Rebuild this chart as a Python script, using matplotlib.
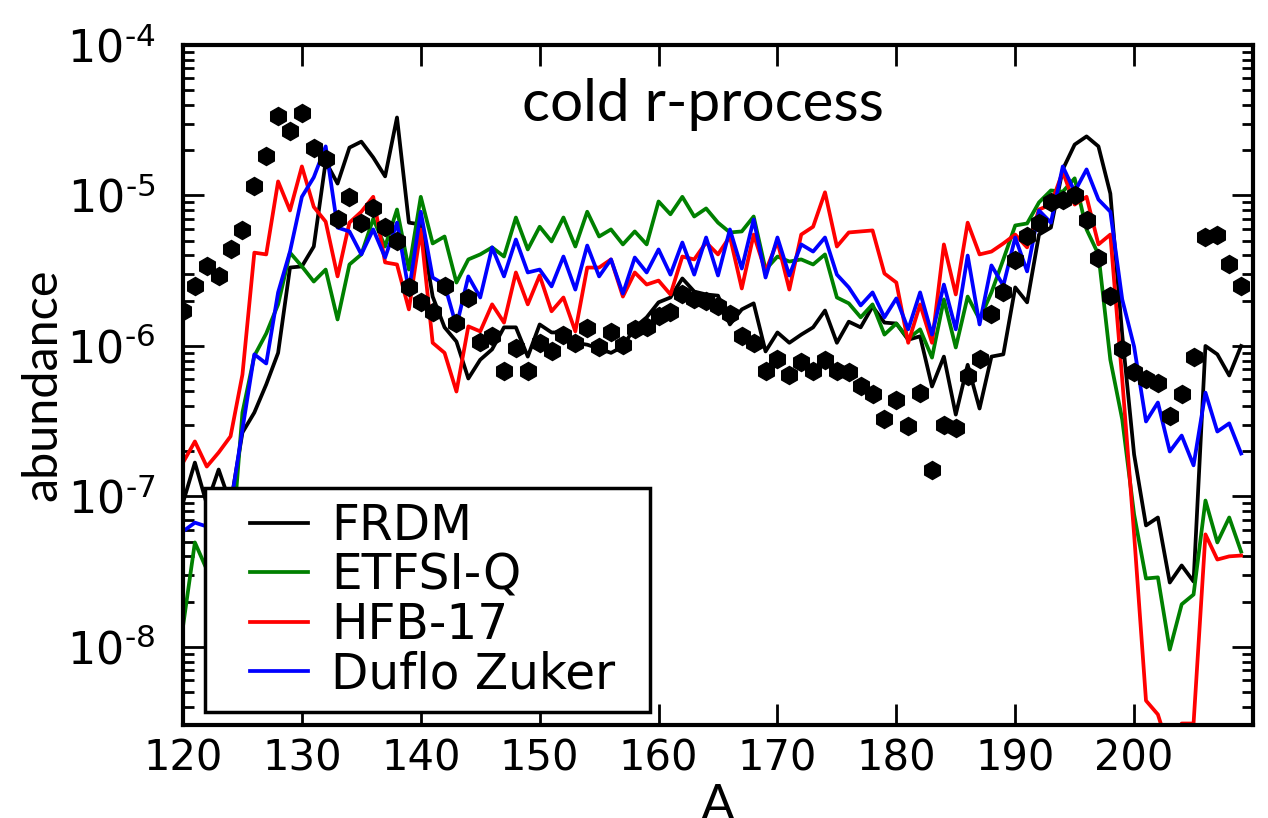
import numpy as np
import matplotlib
matplotlib.use("Agg")
import matplotlib.pyplot as plt
import matplotlib.patches as patches
from matplotlib.ticker import LogLocator, FixedLocator, FixedFormatter, NullFormatter

# --- DATA (mass number A = 120 ... 209) ---
mass_number = list(range(120, 210))

solar = [
    1.72e-6, 2.49e-6, 3.38e-6, 2.9e-6, 4.38e-6, 5.86e-6, 1.15e-5, 1.84e-5, 3.35e-5, 2.7e-5,
    3.56e-5, 2.08e-5, 1.76e-5, 6.93e-6, 9.8e-6, 6.52e-6, 8.2e-6, 6.2e-6, 4.95e-6, 2.45e-6,
    1.95e-6, 1.67e-6, 2.49e-6, 1.43e-6, 2.07e-6, 1.07e-6, 1.17e-6, 6.87e-7, 9.77e-7, 6.87e-7,
    1.05e-6, 9.3e-7, 1.19e-6, 1.05e-6, 1.31e-6, 9.9e-7, 1.23e-6, 1.02e-6, 1.29e-6, 1.33e-6,
    1.57e-6, 1.67e-6, 2.23e-6, 2.04e-6, 1.98e-6, 1.83e-6, 1.62e-6, 1.17e-6, 1.05e-6, 6.87e-7,
    8.25e-7, 6.46e-7, 7.88e-7, 6.87e-7, 8.1e-7, 6.87e-7, 6.67e-7, 5.38e-7, 4.76e-7, 3.25e-7,
    4.35e-7, 2.96e-7, 4.9e-7, 1.49e-7, 3.0e-7, 2.83e-7, 6.27e-7, 8.25e-7, 1.64e-6, 2.3e-6,
    3.7e-6, 5.34e-6, 6.52e-6, 9.0e-6, 9.4e-6, 1.0e-5, 6.83e-6, 3.87e-6, 2.16e-6, 9.6e-7,
    6.67e-7, 6.0e-7, 5.7e-7, 3.45e-7, 4.76e-7, 8.5e-7, 5.26e-6, 5.5e-6, 3.48e-6, 2.49e-6,
]

frdm = [
    9.1e-8, 1.68e-7, 8.9e-8, 1.51e-7, 8.9e-8, 2.66e-7, 3.61e-7, 5.55e-7, 9.0e-7, 3.32e-6,
    3.38e-6, 4.58e-6, 1.68e-5, 1.2e-5, 2.08e-5, 2.28e-5, 1.79e-5, 1.34e-5, 3.3e-5, 6.6e-6,
    6.42e-6, 2.13e-6, 1.33e-6, 1.07e-6, 6.08e-7, 8.1e-7, 9.5e-7, 1.33e-6, 1.33e-6, 8.5e-7,
    1.39e-6, 1.23e-6, 1.23e-6, 1.05e-6, 1.02e-6, 9.6e-7, 9.0e-7, 9.9e-7, 1.33e-6, 1.55e-6,
    1.95e-6, 2.1e-6, 2.81e-6, 2.3e-6, 2.2e-6, 2.16e-6, 1.39e-6, 1.75e-6, 1.92e-6, 9.2e-7,
    1.23e-6, 1.05e-6, 1.19e-6, 1.33e-6, 1.72e-6, 1.05e-6, 1.45e-6, 1.33e-6, 1.83e-6, 1.43e-6,
    1.41e-6, 1.1e-6, 1.16e-6, 5.38e-7, 8.5e-7, 3.5e-7, 7.5e-7, 3.84e-7, 8.5e-7, 8.8e-7,
    2.45e-6, 1.95e-6, 5.5e-6, 6.12e-6, 1.49e-5, 2.18e-5, 2.47e-5, 2.12e-5, 1.03e-5, 1.19e-6,
    1.9e-7, 6.42e-8, 7.25e-8, 2.68e-8, 3.48e-8, 2.72e-8, 1.0e-6, 8.8e-7, 6.37e-7, 1.0e-6,
]

etfsi_q = [
    1.37e-8, 4.95e-8, 3.27e-8, 3.81e-8, 3.64e-8, 3.61e-7, 8.6e-7, 1.21e-6, 1.89e-6, 4.17e-6,
    3.38e-6, 2.68e-6, 3.22e-6, 1.5e-6, 3.48e-6, 4.06e-6, 7.0e-6, 4.58e-6, 8.07e-6, 3.22e-6,
    9.8e-6, 4.8e-6, 5.34e-6, 2.64e-6, 3.76e-6, 4.06e-6, 4.52e-6, 3.93e-6, 7.14e-6, 4.38e-6,
    6.2e-6, 4.95e-6, 7.14e-6, 4.58e-6, 7.8e-6, 5.34e-6, 5.95e-6, 4.73e-6, 5.77e-6, 4.73e-6,
    9.13e-6, 7.5e-6, 9.8e-6, 7.25e-6, 8.2e-6, 6.6e-6, 5.68e-6, 5.77e-6, 7.25e-6, 3.22e-6,
    3.93e-6, 3.64e-6, 3.76e-6, 3.48e-6, 4.06e-6, 2.1e-6, 1.92e-6, 1.55e-6, 1.89e-6, 1.19e-6,
    1.41e-6, 1.12e-6, 1.29e-6, 8.37e-7, 2.04e-6, 9.77e-7, 2.13e-6, 1.5e-6, 2.27e-6, 3.76e-6,
    6.32e-6, 6.52e-6, 9.0e-6, 1.08e-5, 1.06e-5, 1.3e-5, 5.95e-6, 4.06e-6, 8.1e-7, 3.25e-7,
    7.6e-8, 2.85e-8, 2.9e-8, 9.6e-9, 1.92e-8, 2.23e-8, 9.4e-8, 4.95e-8, 7.25e-8, 4.3e-8,
]

hfb_17 = [
    1.68e-7, 2.32e-7, 1.58e-7, 1.96e-7, 2.51e-7, 6.46e-7, 4.17e-6, 4.06e-6, 1.24e-5, 7.95e-6,
    1.56e-5, 8.4e-6, 6.7e-6, 2.9e-6, 6.6e-6, 7.8e-6, 9.8e-6, 3.59e-6, 3.48e-6, 1.75e-6,
    5.95e-6, 1.05e-6, 9.0e-7, 4.98e-7, 1.35e-6, 1.25e-6, 1.89e-6, 1.43e-6, 3.08e-6, 1.89e-6,
    2.94e-6, 1.7e-6, 2.1e-6, 1.25e-6, 3.32e-6, 3.32e-6, 3.76e-6, 2.13e-6, 3.08e-6, 2.56e-6,
    2.72e-6, 2.2e-6, 3.93e-6, 3.76e-6, 4.87e-6, 4.06e-6, 5.34e-6, 2.41e-6, 5.5e-6, 3.13e-6,
    4.95e-6, 2.37e-6, 5.5e-6, 6.2e-6, 1.05e-5, 4.58e-6, 5.68e-6, 5.77e-6, 5.86e-6, 3.03e-6,
    2.64e-6, 1.05e-6, 1.89e-6, 1.05e-6, 4.73e-6, 2.2e-6, 6.6e-6, 4.06e-6, 4.24e-6, 4.8e-6,
    5.5e-6, 4.52e-6, 8.07e-6, 8.7e-6, 1.44e-5, 8.7e-6, 9.8e-6, 4.73e-6, 5.5e-6, 6.0e-7,
    5.6e-8, 4.4e-9, 3.56e-9, 2.0e-9, 3.1e-9, 3.1e-9, 5.6e-8, 3.81e-8, 4.0e-8, 4.05e-8,
]

duflo_zuker = [
    5.86e-8, 6.7e-8, 6.32e-8, 6.0e-8, 8.6e-8, 2.79e-7, 8.8e-7, 7.65e-7, 2.27e-6, 4.24e-6,
    9.8e-6, 1.32e-5, 2.12e-5, 6.12e-6, 5.77e-6, 4.06e-6, 5.95e-6, 3.87e-6, 6.6e-6, 2.3e-6,
    7.8e-6, 2.85e-6, 2.56e-6, 1.35e-6, 2.9e-6, 2.1e-6, 4.52e-6, 2.9e-6, 5.1e-6, 3.08e-6,
    3.22e-6, 2.49e-6, 3.93e-6, 2.37e-6, 4.65e-6, 2.9e-6, 3.76e-6, 2.23e-6, 3.87e-6, 3.08e-6,
    4.38e-6, 2.98e-6, 4.87e-6, 2.98e-6, 5.26e-6, 2.94e-6, 5.95e-6, 3.27e-6, 6.93e-6, 2.85e-6,
    5.26e-6, 2.94e-6, 4.73e-6, 4.24e-6, 5.26e-6, 2.98e-6, 2.45e-6, 1.86e-6, 2.27e-6, 1.55e-6,
    2.07e-6, 1.29e-6, 2.27e-6, 1.19e-6, 2.56e-6, 1.29e-6, 3.99e-6, 1.39e-6, 3.43e-6, 2.52e-6,
    5.26e-6, 3.13e-6, 7.95e-6, 6.6e-6, 1.56e-5, 1.06e-5, 1.49e-5, 9.4e-6, 7.8e-6, 2.04e-6,
    9.9e-7, 3.15e-7, 4.21e-7, 1.99e-7, 2.54e-7, 1.61e-7, 4.9e-7, 2.7e-7, 3.06e-7, 1.93e-7,
]

x_ticks = [120, 130, 140, 150, 160, 170, 180, 190, 200]
y_ticks = [1e-8, 1e-7, 1e-6, 1e-5, 1e-4]
y_tick_labels = [r'$10^{\text{-8}}$', r'$10^{\text{-7}}$', r'$10^{\text{-6}}$',
                 r'$10^{\text{-5}}$', r'$10^{\text{-4}}$']

# --- FIGURE ---
fig = plt.figure(figsize=(12.68, 8.18), dpi=100)
ax = fig.add_axes([183 / 1268, 1 - 725 / 818, 1070 / 1268, 680 / 818])

ax.plot(mass_number, frdm, color='black', lw=2.7, label='FRDM')
ax.plot(mass_number, etfsi_q, color='green', lw=2.7, label='ETFSI-Q')
ax.plot(mass_number, hfb_17, color='red', lw=2.7, label='HFB-17')
ax.plot(mass_number, duflo_zuker, color='blue', lw=2.7, label='Duflo Zuker')
ax.plot(mass_number, solar, 'h', color='black', ms=13, zorder=4)

ax.set_yscale('log')
ax.set_xlim(120, 210)
ax.set_ylim(3.03e-9, 1e-4)

ax.xaxis.set_major_locator(FixedLocator(x_ticks))
ax.yaxis.set_major_locator(FixedLocator(y_ticks))
ax.yaxis.set_major_formatter(FixedFormatter(y_tick_labels))
ax.yaxis.set_minor_locator(LogLocator(base=10, subs=np.arange(2, 10), numticks=20))
ax.yaxis.set_minor_formatter(NullFormatter())

ax.tick_params(which='both', direction='in', top=True, right=True, width=2)
ax.tick_params(which='major', length=15)
ax.tick_params(which='minor', length=8)
ax.tick_params(axis='x', labelsize=30, pad=9)
ax.tick_params(axis='y', labelsize=32, pad=20)
for sp in ax.spines.values():
    sp.set_linewidth(3)

ax.set_xlabel('A', fontsize=36, family='Lato')
ax.xaxis.set_label_coords(0.5, -0.085)
ax.set_ylabel('abundance', fontsize=35, family='Lato')
ax.yaxis.set_label_coords(-0.131, 0.5)
ax.yaxis.label.set_va('center')

ax.text(0.486, 0.912, 'cold r-process', transform=ax.transAxes,
        ha='center', va='center', fontsize=42, family='Lato')

# legend box drawn by hand so its padding can match the reference
box = patches.Rectangle((0.0206, 0.019), 0.416, 0.329, transform=ax.transAxes,
                        facecolor='white', edgecolor='black', lw=2.5, zorder=6)
ax.add_patch(box)
leg = ax.legend(loc='center left', bbox_to_anchor=(0.0626, 0.184), borderaxespad=0,
                fontsize=35, handlelength=1.2, handletextpad=0.47,
                labelspacing=0.03, borderpad=0, frameon=False)
leg.set_zorder(7)

plt.savefig('out.png', dpi=100)
